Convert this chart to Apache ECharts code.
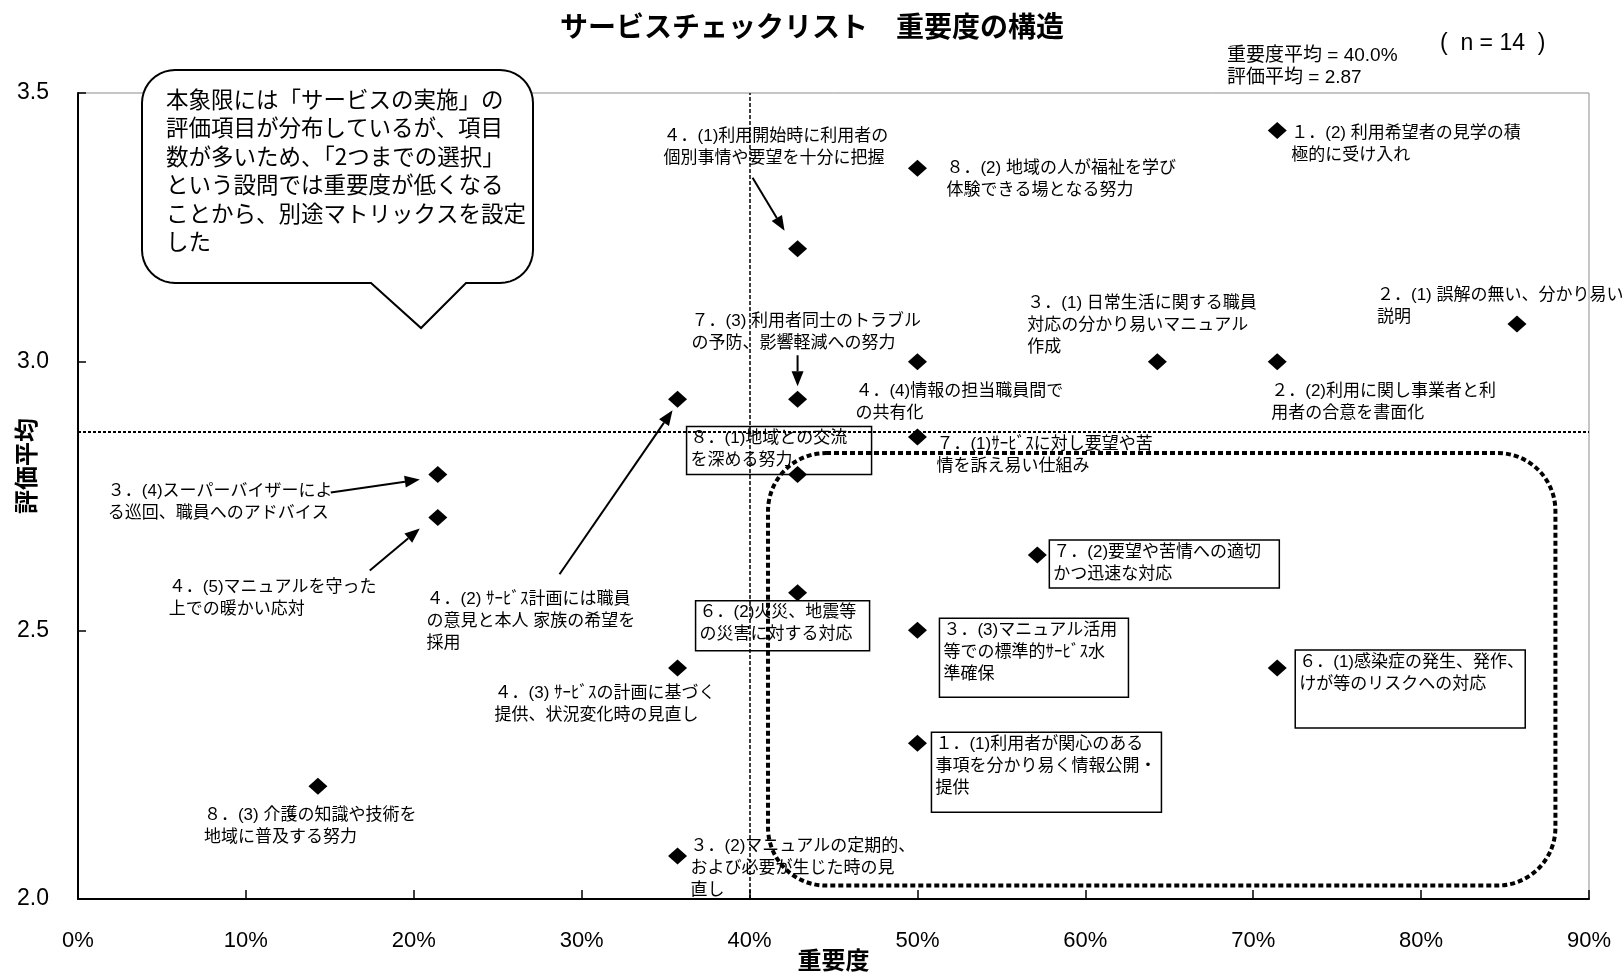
<!DOCTYPE html>
<html>
<head>
<meta charset="utf-8">
<script src="https://cdn.jsdelivr.net/npm/echarts@6/dist/echarts.min.js"></script>
<style>
  html, body { margin: 0; padding: 0; background: #fff; }
  #chart { width: 1624px; height: 977px; }
</style>
</head>
<body>
<div id="chart"></div>
<script>
// サービスチェックリスト：各項目の重要度（%）と評価平均
const itemLabels = [
  '１．(2) 利用希望者の見学の積\n極的に受け入れ',
  '８．(2) 地域の人が福祉を学び\n体験できる場となる努力',
  '４．(1)利用開始時に利用者の\n個別事情や要望を十分に把握',
  '２．(1) 誤解の無い、分かり易い\n説明',
  '３．(1) 日常生活に関する職員\n対応の分かり易いマニュアル\n作成',
  '２．(2)利用に関し事業者と利\n用者の合意を書面化',
  '４．(4)情報の担当職員間で\nの共有化',
  '７．(3) 利用者同士のトラブル\nの予防、影響軽減への努力',
  '４．(2) ｻｰﾋﾞｽ計画には職員\nの意見と本人 家族の希望を\n採用',
  '７．(1)ｻｰﾋﾞｽに対し要望や苦\n情を訴え易い仕組み',
  '８．(1)地域との交流\nを深める努力',
  '３．(4)スーパーバイザーによ\nる巡回、職員へのアドバイス',
  '４．(5)マニュアルを守った\n上での暖かい応対',
  '７．(2)要望や苦情への適切\nかつ迅速な対応',
  '６．(2)火災、地震等\nの災害に対する対応',
  '３．(3)マニュアル活用\n等での標準的ｻｰﾋﾞｽ水\n準確保',
  '６．(1)感染症の発生、発作、\nけが等のリスクへの対応',
  '４．(3) ｻｰﾋﾞｽの計画に基づく\n提供、状況変化時の見直し',
  '１．(1)利用者が関心のある\n事項を分かり易く情報公開・\n提供',
  '８．(3) 介護の知識や技術を\n地域に普及する努力',
  '３．(2)マニュアルの定期的、\nおよび必要が生じた時の見\n直し'
];
const importance = [71.43, 50.00, 42.86, 85.71, 64.29, 71.43, 50.00, 42.86, 35.71, 50.00, 42.86,
                    21.43, 21.43, 57.14, 42.86, 50.00, 71.43, 35.71, 50.00, 14.29, 35.71];
const rating = [3.43, 3.36, 3.21, 3.07, 3.00, 3.00, 3.00, 2.93, 2.93, 2.86, 2.79,
                2.79, 2.71, 2.64, 2.57, 2.50, 2.43, 2.43, 2.29, 2.21, 2.08];

const respondents = 14;
const meanImportance = 40.0;
const meanRating = 2.87;

const xRange = { min: 0, max: 90, step: 10 };
const yRange = { min: 2.0, max: 3.5, step: 0.5 };

const noteText = '本象限には「サービスの実施」の\n評価項目が分布しているが、項目\n数が多いため、「2つまでの選択」\nという設問では重要度が低くなる\nことから、別途マトリックスを設定\nした';

// 点ラベルの配置（点の中心からのずれ、枠付きラベルは外形サイズ）
const labelLayout = [
  { dx: 14, dy: -8 },
  { dx: 29, dy: -11 },
  { dx: -134, dy: -124 },
  { dx: -140, dy: -40 },
  { dx: -130, dy: -69 },
  { dx: -6, dy: 19 },
  { dx: -62, dy: 19 },
  { dx: -106, dy: -89 },
  { dx: -251, dy: 189 },
  { dx: 19, dy: -4 },
  { dx: -111, dy: -48, box: [185, 48] },
  { dx: -330, dy: 6 },
  { dx: -269, dy: 59 },
  { dx: 12, dy: -15, box: [230, 48] },
  { dx: -102, dy: 8, box: [174, 50] },
  { dx: 22, dy: -12, box: [189, 79] },
  { dx: 18, dy: -18, box: [230, 78] },
  { dx: -183, dy: 14 },
  { dx: 14, dy: -11, box: [230, 80] },
  { dx: -114, dy: 18 },
  { dx: 13, dy: -21 }
];

// 引き出し矢印（点の中心からの始点・先端）
const arrowLayout = [
  { i: 2, from: [-45, -71], to: [-13, -18] },
  { i: 7, from: [0, -44], to: [0, -13] },
  { i: 11, from: [-107, 18], to: [-18, 5] },
  { i: 12, from: [-68, 53], to: [-18, 11] },
  { i: 8, from: [-118, 175], to: [-5, 11] }
];

// 点線で囲む領域（軸の値で指定）
const focusRegion = { x: [41.1, 88.0], y: [2.025, 2.83] };

// 吹き出しの外形
const bubble = { left: 142, top: 70, right: 533, bottom: 283, r: 33, ptrLeft: 371, ptrRight: 466, tipX: 421, tipY: 328 };

const LATIN_CJK = '"Liberation Sans", "Noto Sans CJK JP", sans-serif';
const CJK = '"Noto Sans CJK JP", sans-serif';

const chart = echarts.init(document.getElementById('chart'), null, { renderer: 'canvas' });

const seriesData = importance.map((x, i) => {
  const L = labelLayout[i];
  const label = {};
  if (L.box) {
    label.borderColor = '#000';
    label.borderWidth = 1.5;
    label.padding = [1, 4, 0, 4];
    label.width = L.box[0] - 8;
    label.height = L.box[1] - 1;
  }
  return { value: [x, rating[i]], name: itemLabels[i], label: label };
});

chart.setOption({
  animation: false,
  backgroundColor: '#fff',
  title: {
    text: 'サービスチェックリスト　重要度の構造',
    left: 'center',
    top: 7,
    textStyle: { fontFamily: CJK, fontWeight: 'bold', fontSize: 28, color: '#000' }
  },
  grid: {
    left: 78, right: 35, top: 93, bottom: 73,
    show: true, borderColor: '#8c8c8c', borderWidth: 1, backgroundColor: 'transparent'
  },
  xAxis: {
    type: 'value',
    min: xRange.min, max: xRange.max, interval: xRange.step,
    name: '重要度',
    nameLocation: 'middle',
    nameGap: 49,
    nameMoveOverlap: false,
    nameTextStyle: { fontFamily: CJK, fontWeight: 'bold', fontSize: 24, color: '#000' },
    axisLine: { onZero: false, lineStyle: { color: '#000', width: 2 } },
    axisTick: { inside: true, length: 9, lineStyle: { color: '#000', width: 1.5 } },
    axisLabel: {
      formatter: '{value}%', margin: 31, showMinLabel: true, showMaxLabel: true,
      fontFamily: '"Liberation Sans", sans-serif', fontSize: 22, color: '#000'
    },
    splitLine: { show: false }
  },
  yAxis: {
    type: 'value',
    min: yRange.min, max: yRange.max, interval: yRange.step,
    name: '評価平均',
    nameLocation: 'middle',
    nameGap: 40,
    nameRotate: 90,
    nameMoveOverlap: false,
    nameTextStyle: { fontFamily: CJK, fontWeight: 'bold', fontSize: 24, color: '#000', padding: [0, 0, 0, 60] },
    axisLine: { onZero: false, lineStyle: { color: '#000', width: 2 } },
    axisTick: { inside: true, length: 8, lineStyle: { color: '#000', width: 1.5 } },
    axisLabel: {
      formatter: v => v.toFixed(1), margin: 29, showMinLabel: true, showMaxLabel: true,
      fontFamily: '"Liberation Sans", sans-serif', fontSize: 23, color: '#000'
    },
    splitLine: { show: false }
  },
  series: [{
    type: 'scatter',
    symbol: 'diamond',
    symbolSize: [19, 17],
    itemStyle: { color: '#000', opacity: 1, borderWidth: 0 },
    emphasis: { disabled: true },
    data: seriesData,
    label: {
      show: true,
      position: 'inside',
      align: 'left',
      verticalAlign: 'top',
      formatter: p => p.name,
      color: '#000',
      textBorderWidth: 0,
      fontFamily: LATIN_CJK,
      fontSize: 17,
      lineHeight: 22
    },
    labelLayout: p => ({ dx: labelLayout[p.dataIndex].dx, dy: labelLayout[p.dataIndex].dy, hideOverlap: false }),
    markLine: {
      silent: true,
      symbol: 'none',
      label: { show: false },
      emphasis: { disabled: true },
      data: [
        { xAxis: meanImportance, lineStyle: { color: '#000', width: 1.5, type: [4, 2] } },
        { yAxis: meanRating, lineStyle: { color: '#000', width: 2, type: [3, 2] } }
      ]
    }
  }]
});

// 軸の値からピクセル位置を求めて注記を描く
const toPx = (x, y) => chart.convertToPixel({ seriesIndex: 0 }, [x, y]);
const graphics = [];

const r0 = toPx(focusRegion.x[0], focusRegion.y[1]);
const r1 = toPx(focusRegion.x[1], focusRegion.y[0]);
graphics.push({
  type: 'rect',
  z: 1,
  silent: true,
  shape: { x: r0[0], y: r0[1], width: r1[0] - r0[0], height: r1[1] - r0[1], r: 58 },
  style: { fill: 'none', stroke: '#000', lineWidth: 4, lineDash: [5, 3] }
});

arrowLayout.forEach(a => {
  const c = toPx(importance[a.i], rating[a.i]);
  const sx = c[0] + a.from[0], sy = c[1] + a.from[1];
  const tx = c[0] + a.to[0], ty = c[1] + a.to[1];
  const len = Math.hypot(tx - sx, ty - sy);
  const ux = (tx - sx) / len, uy = (ty - sy) / len;
  const headLen = 15, headHalf = 6;
  const bx = tx - ux * headLen, by = ty - uy * headLen;
  graphics.push({
    type: 'line', z: 3, silent: true,
    shape: { x1: sx, y1: sy, x2: bx, y2: by },
    style: { stroke: '#000', lineWidth: 2 }
  });
  graphics.push({
    type: 'polygon', z: 3, silent: true,
    shape: { points: [[tx, ty], [bx - uy * headHalf, by + ux * headHalf], [bx + uy * headHalf, by - ux * headHalf]] },
    style: { fill: '#000' }
  });
});

// 吹き出しの外形（角丸＋下向きのしっぽ）
function bubbleOutline(b) {
  const pts = [];
  const arc = (cx, cy, a0, a1) => {
    for (let k = 0; k <= 10; k++) {
      const t = (a0 + (a1 - a0) * k / 10) * Math.PI / 180;
      pts.push([cx + b.r * Math.cos(t), cy + b.r * Math.sin(t)]);
    }
  };
  arc(b.left + b.r, b.top + b.r, 180, 270);
  arc(b.right - b.r, b.top + b.r, 270, 360);
  arc(b.right - b.r, b.bottom - b.r, 0, 90);
  pts.push([b.ptrRight, b.bottom], [b.tipX, b.tipY], [b.ptrLeft, b.bottom]);
  arc(b.left + b.r, b.bottom - b.r, 90, 180);
  return pts;
}
graphics.push({
  type: 'polygon', z: 10, silent: true,
  shape: { points: bubbleOutline(bubble) },
  style: { fill: '#fff', stroke: '#000', lineWidth: 2 }
});
graphics.push({
  type: 'text', z: 11, silent: true,
  x: 166, y: 84.75,
  style: {
    text: noteText, fill: '#000', fontFamily: CJK, fontSize: 22.5, lineHeight: 28.5,
    align: 'left', verticalAlign: 'top'
  }
});

// 回答数と平均値
graphics.push({
  type: 'text', silent: true, x: 1440, y: 44,
  style: {
    text: '(  n = ' + respondents + '  )', fill: '#000', fontFamily: '"Liberation Sans", sans-serif',
    fontSize: 23, align: 'left', verticalAlign: 'middle'
  }
});
graphics.push({
  type: 'text', silent: true, x: 1227, y: 56,
  style: {
    text: '重要度平均 = ' + meanImportance.toFixed(1) + '%', fill: '#000', fontFamily: LATIN_CJK,
    fontSize: 19, align: 'left', verticalAlign: 'middle'
  }
});
graphics.push({
  type: 'text', silent: true, x: 1227, y: 78,
  style: {
    text: '評価平均 = ' + meanRating.toFixed(2), fill: '#000', fontFamily: LATIN_CJK,
    fontSize: 19, align: 'left', verticalAlign: 'middle'
  }
});

chart.setOption({ graphic: { elements: graphics } });
</script>
</body>
</html>
